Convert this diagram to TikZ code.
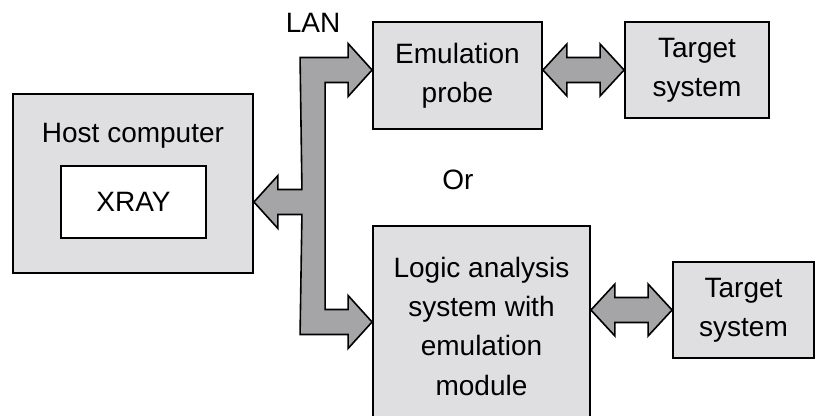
\documentclass[tikz,border=0pt]{standalone}
\usepackage{fontspec}
\setmainfont{Liberation Sans}
\usepackage{xcolor}
\usepackage{tikz}
\usetikzlibrary{calc}
\definecolor{boxgray}{RGB}{223,223,225}
\definecolor{arrowgray}{RGB}{165,165,167}
\tikzset{
  blk/.style={draw, line width=1.4pt, fill=boxgray, inner sep=0pt, align=center},
  fatarrow/.style={draw, line width=1.2pt, fill=arrowgray, line join=miter},
  lbl/.style={inner sep=0pt}
}
\newcommand\fatdbl[2]{%
  \draw[fatarrow] (#1) -- ($(#1)+(24,-26)$) -- ($(#1)+(24,-12.5)$) -- ($(#2)+(-24,-12.5)$) -- ($(#2)+(-24,-26)$) -- (#2)
    -- ($(#2)+(-24,26)$) -- ($(#2)+(-24,12.5)$) -- ($(#1)+(24,12.5)$) -- ($(#1)+(24,26)$) -- cycle;}
\begin{document}
\begin{tikzpicture}[x=0.75pt, y=-0.75pt, font=\fontsize{21}{29.5}\selectfont]
    \clip (0,0) rectangle (815,415);
    \fill[white] (0,0) rectangle (815,415);

    \node[blk, minimum width=180pt, minimum height=134.25pt] (host) at (133,183.5) {};
    \node[lbl, anchor=base] (hostlbl) at (133,142) {Host computer};
    \node[blk, fill=white, minimum width=108.75pt, minimum height=54pt] (xray) at (133.5,202) {XRAY};

    \node[blk, minimum width=126.75pt, minimum height=80.25pt] (probe) at (457.5,75.5) {Emulation\\probe};
    \node[blk, minimum width=108pt, minimum height=72pt] (tgtA) at (697,70) {Target\\system};

    \node[blk, minimum width=162.75pt, minimum height=150pt] (logic) at (481.5,326) {Logic analysis\\system with\\emulation\\module};
    \node[blk, minimum width=105.75pt, minimum height=72pt] (tgtB) at (743.5,310) {Target\\system};

    \node[lbl] (lan) at (313,22.5) {LAN};
    \node[lbl] (or) at (458,180) {Or};

    \coordinate (tA) at (probe.west |- tgtA.west);
    \coordinate (tH) at (host.east |- xray.east);
    \coordinate (tL) at ($(logic.west)+(0,-4)$);
    \draw[fatarrow] ($(tA)+(-72,-12.5)$) -- ($(tA)+(-24,-12.5)$) -- ($(tA)+(-24,-26.5)$) -- (tA)
        -- ($(tA)+(-24,26.5)$) -- ($(tA)+(-24,12.5)$) -- ($(tA)+(-47,12.5)$)
        -- ($(tL)+(-47,-12.5)$) -- ($(tL)+(-24,-12.5)$) -- ($(tL)+(-24,-26.5)$) -- (tL)
        -- ($(tL)+(-24,26.5)$) -- ($(tL)+(-24,12.5)$) -- ($(tL)+(-72,12.5)$)
        -- ($(tH)+(48,12.5)$) -- ($(tH)+(24,12.5)$) -- ($(tH)+(24,26.5)$) -- (tH)
        -- ($(tH)+(24,-26.5)$) -- ($(tH)+(24,-12.5)$) -- ($(tH)+(48,-12.5)$) -- cycle;

    \coordinate (pa) at (probe.east |- tgtA.west);
    \coordinate (pb) at (tgtA.west);
    \fatdbl{pa}{pb}
    \coordinate (la) at (logic.east |- tgtB.west);
    \coordinate (lb) at (tgtB.west);
    \fatdbl{la}{lb}
\end{tikzpicture}
\end{document}
